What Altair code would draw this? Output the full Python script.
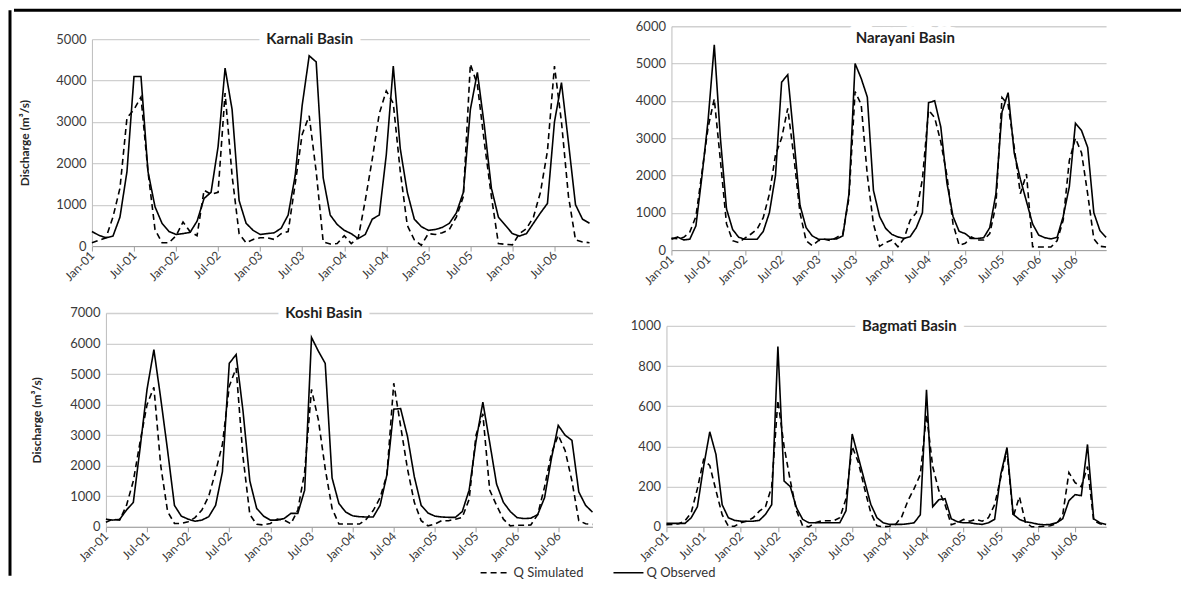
import json
import altair as alt
import pandas as pd

# ---------------- data ----------------
tick_labels = ["Jan-01", "Jul-01", "Jan-02", "Jul-02", "Jan-03", "Jul-03",
               "Jan-04", "Jul-04", "Jan-05", "Jul-05", "Jan-06", "Jul-06"]
months = list(range(72))  # Jan-2001 ... Dec-2006

karnali_obs = [350, 260, 200, 240, 700, 1800, 4100, 4100, 1800, 950, 550, 350,
               280, 300, 330, 600, 1150, 1300, 2400, 4300, 3300, 1100, 550, 380,
               280, 300, 320, 430, 750, 1700, 3400, 4600, 4450, 1650, 750, 520,
               380, 300, 180, 280, 650, 750, 2200, 4350, 2350, 1300, 650, 470,
               380, 400, 450, 550, 800, 1300, 3300, 4200, 2900, 1400, 700, 500,
               300, 240, 300, 550, 800, 1030, 3000, 3950, 2500, 1000, 650, 550]
karnali_sim = [80, 140, 200, 700, 1400, 3100, 3300, 3600, 1800, 400, 80, 80,
               250, 580, 350, 250, 1350, 1250, 1300, 3700, 1700, 300, 80, 160,
               200, 200, 160, 300, 350, 1500, 2700, 3150, 1800, 100, 50, 60,
               250, 60, 200, 1100, 2100, 3200, 3750, 3450, 1800, 500, 150, 20,
               300, 280, 320, 400, 700, 1200, 4400, 3900, 2500, 1200, 60, 40,
               30, 300, 420, 700, 1300, 2300, 4350, 3000, 1200, 150, 100, 80]

narayani_obs = [290, 350, 270, 290, 650, 2000, 3500, 5500, 3000, 1100, 550, 340,
                290, 290, 290, 500, 1000, 2000, 4500, 4700, 3000, 1200, 600, 380,
                290, 290, 290, 300, 380, 1500, 5000, 4600, 4100, 1600, 900, 580,
                420, 350, 310, 360, 600, 1000, 3950, 4000, 3300, 1800, 900, 500,
                440, 310, 310, 330, 600, 1500, 3700, 4220, 2600, 1900, 1300, 700,
                400, 330, 300, 340, 900, 1700, 3400, 3200, 2750, 1000, 520, 340]
narayani_sim = [320, 300, 340, 480, 900, 2100, 3300, 4050, 2400, 700, 250, 200,
                320, 430, 560, 870, 1500, 2550, 3000, 3800, 2500, 1000, 250, 120,
                250, 290, 250, 340, 430, 1400, 4250, 3900, 2000, 700, 100, 200,
                270, 90, 310, 800, 1000, 1900, 3750, 3550, 2900, 2000, 700, 130,
                180, 350, 270, 270, 440, 1200, 4090, 3900, 2750, 1510, 2040, 90,
                80, 80, 80, 250, 800, 2400, 3000, 2600, 1500, 300, 100, 80]

koshi_obs = [250, 220, 240, 550, 800, 2600, 4500, 5800, 4200, 2500, 700, 350,
             250, 180, 220, 330, 700, 1800, 5350, 5640, 3800, 1500, 600, 350,
             220, 220, 270, 440, 440, 1200, 6200, 5750, 5350, 1600, 760, 480,
             360, 330, 320, 320, 700, 1700, 3850, 3870, 2960, 1640, 700, 450,
             350, 320, 310, 310, 500, 1200, 2800, 4080, 2760, 1400, 800, 500,
             300, 270, 280, 400, 950, 2230, 3320, 3000, 2830, 1140, 700, 480]
koshi_sim = [150, 250, 220, 700, 1500, 2800, 4000, 4570, 2000, 500, 110, 110,
             165, 300, 550, 1000, 1800, 2700, 4600, 5200, 2300, 400, 80, 60,
             110, 250, 220, 100, 550, 1800, 4500, 3500, 1900, 600, 90, 90,
             90, 90, 250, 530, 950, 1700, 4700, 3300, 1900, 800, 200, 30,
             90, 200, 200, 250, 310, 900, 3000, 3700, 1200, 700, 250, 30,
             50, 50, 60, 400, 1300, 2400, 3000, 2500, 1500, 200, 100, 80]

bagmati_obs = [17, 17, 17, 17, 45, 100, 300, 473, 360, 110, 45, 32,
               28, 28, 28, 32, 62, 110, 898, 228, 200, 95, 37, 20,
               20, 20, 20, 20, 20, 80, 462, 345, 228, 112, 45, 20,
               12, 12, 12, 15, 20, 60, 682, 100, 135, 140, 40, 25,
               20, 20, 15, 12, 20, 37, 262, 395, 62, 37, 25, 20,
               13, 10, 12, 20, 40, 130, 160, 155, 410, 40, 20, 12]
bagmati_sim = [10, 12, 15, 30, 70, 190, 335, 305, 180, 60, 3, 3,
               20, 28, 45, 78, 100, 200, 630, 400, 230, 80, 5, 0,
               20, 30, 30, 30, 45, 140, 400, 320, 190, 70, 5, 0,
               3, 12, 50, 130, 190, 260, 560, 300, 180, 110, 10, 20,
               37, 28, 37, 28, 45, 110, 245, 380, 50, 150, 20, 0,
               0, 3, 5, 15, 60, 270, 220, 200, 300, 30, 15, 10]

series_names = ["Q Simulated", "Q Observed"]

# ---------------- styling ----------------
FONT = "Lato"
label_expr = "%s[round(datum.value / 6)]" % json.dumps(tick_labels)
dash_scale = alt.Scale(domain=series_names, range=[[6, 4], [1, 0]])
legend = alt.Legend(orient="none", legendX=470, legendY=547, direction="horizontal",
                    title=None, symbolType="stroke", symbolSize=900,
                    symbolStrokeWidth=1.5, symbolStrokeColor="black",
                    labelFont=FONT, labelFontSize=13, labelColor="#333333",
                    columnPadding=26, labelOffset=2)


def make_frame(obs, sim):
    return pd.DataFrame({
        "month": months + months,
        "value": sim + obs,
        "series": [series_names[0]] * len(months) + [series_names[1]] * len(months),
    })


def marker(mx, my):
    return alt.Chart(pd.DataFrame({"m": ["."]})).mark_text(
        fontSize=1, opacity=0, align="left", baseline="top").encode(
        text="m:N", x=alt.value(mx), y=alt.value(my))


def panel(name, obs, sim, ymax, ystep, w, h, top, ytitle, title_dx, title_dy,
          mark_x, mark_y, title_pad=24):
    df = make_frame(obs, sim)
    x = alt.X("month:Q",
              scale=alt.Scale(domain=[0, 71], nice=False, zero=False),
              axis=alt.Axis(values=list(range(0, 72, 6)), labelExpr=label_expr,
                            title=None, grid=False, labelAngle=315,
                            labelAlign="right", labelBaseline="middle"))
    yaxis = dict(values=list(range(0, ymax + 1, ystep)), grid=True, format="d")
    if ytitle:
        yaxis["title"] = ytitle
        yaxis["titlePadding"] = title_pad
    else:
        yaxis["title"] = None
    y = alt.Y("value:Q", scale=alt.Scale(domain=[0, ymax], nice=False, range=[h, top]),
              axis=alt.Axis(**yaxis))
    lines = alt.Chart(df).mark_line(color="black", strokeWidth=1.6).encode(
        x=x, y=y,
        strokeDash=alt.StrokeDash("series:N", scale=dash_scale, legend=legend,
                                  sort=series_names))
    tdf = pd.DataFrame({"name": [name]})
    halo = alt.Chart(tdf).mark_text(font=FONT, fontSize=15, fontWeight="bold",
                                    fill="white", stroke="white", strokeWidth=16,
                                    strokeJoin="round", strokeCap="round",
                                    align="center", baseline="middle").encode(
        text="name:N", x=alt.value(title_dx), y=alt.value(title_dy))
    label = alt.Chart(tdf).mark_text(font=FONT, fontSize=15, fontWeight="bold",
                                     color="#1e1e1e", align="center",
                                     baseline="middle").encode(
        text="name:N", x=alt.value(title_dx), y=alt.value(title_dy))
    return alt.layer(halo, lines, label, marker(mark_x, mark_y)).properties(width=w, height=h)


ytitle = "Discharge (m\u00b3/s)"
karnali = panel("Karnali Basin", karnali_obs, karnali_sim, 5000, 1000, 498, 220, 13,
                ytitle, 218, 13, -77, 0, title_pad=24)
narayani = panel("Narayani Basin", narayani_obs, narayani_sim, 6000, 1000, 435, 224, 0,
                 None, 234, 12, -78, -14)
koshi = panel("Koshi Basin", koshi_obs, koshi_sim, 7000, 1000, 487, 214, 0,
              ytitle, 218, 0, -91, -26, title_pad=26)
bagmati = panel("Bagmati Basin", bagmati_obs, bagmati_sim, 1000, 200, 440, 214, 13,
                None, 243, 13, -70, 0)

spacer_df = pd.DataFrame({"m": ["."]})


def spacer():
    return alt.Chart(spacer_df).mark_text(fontSize=1, opacity=0).encode(
        text="m:N", x=alt.value(0), y=alt.value(0)).properties(width=1, height=1)


border_df = pd.DataFrame({"a": [0]})
top_border = alt.Chart(border_df).mark_rule(color="black", strokeWidth=3).encode(
    x=alt.value(0), x2=alt.value(1168), y=alt.value(0)).properties(width=1, height=1)
left_border = alt.Chart(border_df).mark_rule(color="black", strokeWidth=3).encode(
    x=alt.value(0), y=alt.value(0), y2=alt.value(566)).properties(width=1, height=1)

row1 = alt.hconcat(spacer(), karnali, narayani, spacing=0)
row2 = alt.hconcat(spacer(), koshi, bagmati, spacing=0)
body = alt.vconcat(top_border, row1, row2, spacing=0)

chart = alt.hconcat(left_border, body, spacing=0).properties(
    padding={"left": 0, "top": 0, "right": 0, "bottom": 0}
).configure_view(stroke=None).configure_axis(
    labelFont=FONT, labelFontSize=12, labelColor="#3a3a3a",
    titleFont=FONT, titleFontSize=12, titleFontWeight="bold", titleColor="#262626"
).configure_axisY(
    gridColor="#d0d0d0", gridWidth=1.3, domainColor="#bcbcbc", ticks=False,
    labelPadding=6, labelFontSize=13
).configure_axisX(
    domainColor="#a0a0a0", tickColor="#a0a0a0", tickSize=5, labelPadding=2
)

chart.save("out.html", embed_options={"renderer": "svg", "actions": False})
